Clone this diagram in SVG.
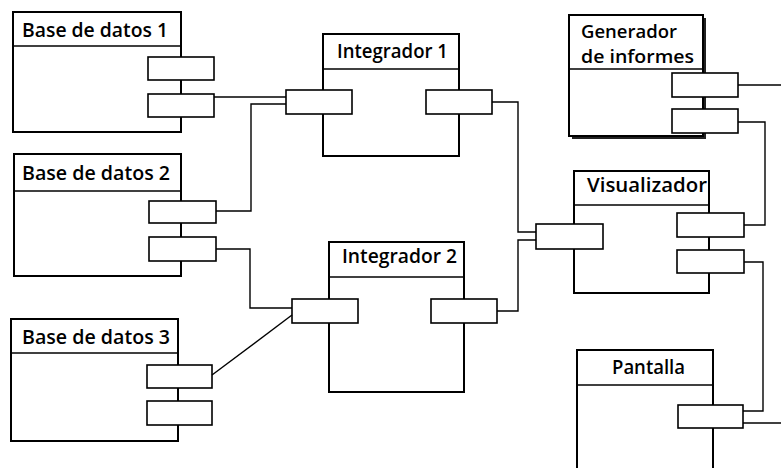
<svg xmlns="http://www.w3.org/2000/svg" width="781" height="468" viewBox="0 0 781 468">
<style>
.box{fill:#fff;stroke:#000;stroke-width:2}
.sep{stroke:#000;stroke-width:1.5}
.port{fill:#fff;stroke:#000;stroke-width:1.6}
.lbl{font-family:"Open Sans","Liberation Sans",sans-serif;font-weight:600;font-size:20px;fill:#000}
.lbl2{font-size:18px}
.con{fill:none;stroke:#000;stroke-width:1.4}
</style>
<rect width="781" height="468" fill="#fff"/>
<g id="bd1">
<rect class="box" x="13" y="12" width="168" height="120"/>
<line class="sep" x1="13" y1="46" x2="181" y2="46"/>
<text class="lbl" x="22" y="37" textLength="146" lengthAdjust="spacingAndGlyphs">Base de datos 1</text>
<rect class="port" x="148" y="57" width="66" height="23"/>
<rect class="port" x="148" y="94" width="66" height="23"/>
</g>
<g id="bd2">
<rect class="box" x="14" y="154" width="167" height="122"/>
<line class="sep" x1="14" y1="191" x2="181" y2="191"/>
<text class="lbl" x="22" y="180" textLength="148" lengthAdjust="spacingAndGlyphs">Base de datos 2</text>
<rect class="port" x="149" y="201" width="67" height="22"/>
<rect class="port" x="149" y="237" width="67" height="24"/>
</g>
<g id="bd3">
<rect class="box" x="11" y="319" width="167" height="122"/>
<line class="sep" x1="11" y1="353" x2="178" y2="353"/>
<text class="lbl" x="22" y="344" textLength="148" lengthAdjust="spacingAndGlyphs">Base de datos 3</text>
<rect class="port" x="147" y="365" width="65" height="23"/>
<rect class="port" x="147" y="401" width="65" height="24"/>
</g>
<g id="int1">
<rect class="box" x="323" y="34" width="136" height="122"/>
<line class="sep" x1="323" y1="69" x2="459" y2="69"/>
<text class="lbl" x="337" y="58" textLength="111" lengthAdjust="spacingAndGlyphs">Integrador 1</text>
<rect class="port" x="286" y="90" width="66" height="24"/>
<rect class="port" x="426" y="90" width="66" height="24"/>
</g>
<g id="int2">
<rect class="box" x="329" y="242" width="135" height="150"/>
<line class="sep" x1="329" y1="277" x2="464" y2="277"/>
<text class="lbl" x="342" y="263" textLength="115" lengthAdjust="spacingAndGlyphs">Integrador 2</text>
<rect class="port" x="292" y="299" width="66" height="24"/>
<rect class="port" x="431" y="299" width="66" height="24"/>
</g>
<g id="gen">
<rect x="572" y="18" width="134" height="121" fill="#222"/>
<rect class="box" x="569" y="15" width="134" height="121"/>
<line class="sep" x1="569" y1="69" x2="703" y2="69"/>
<text class="lbl lbl2" x="581" y="38" textLength="96" lengthAdjust="spacingAndGlyphs">Generador</text>
<text class="lbl lbl2" x="581" y="63" textLength="113" lengthAdjust="spacingAndGlyphs">de informes</text>
<rect class="port" x="672" y="73" width="66" height="24"/>
<rect class="port" x="672" y="109" width="66" height="24"/>
</g>
<g id="vis">
<rect class="box" x="574" y="171" width="135" height="122"/>
<line class="sep" x1="574" y1="205" x2="709" y2="205"/>
<text class="lbl" x="587" y="192" textLength="120" lengthAdjust="spacingAndGlyphs">Visualizador</text>
<rect class="port" x="536" y="224" width="67" height="25"/>
<rect class="port" x="677" y="213" width="67" height="24"/>
<rect class="port" x="677" y="250" width="67" height="23"/>
</g>
<g id="pantalla">
<rect class="box" x="577" y="350" width="136" height="130"/>
<line class="sep" x1="577" y1="385" x2="713" y2="385"/>
<text class="lbl" x="612" y="374" textLength="73" lengthAdjust="spacingAndGlyphs">Pantalla</text>
<rect class="port" x="678" y="405" width="65" height="23"/>
</g>
<g id="connectors">
<polyline class="con" points="214,97 286,97"/>
<polyline class="con" points="216,211 251,211 251,104 286,104"/>
<polyline class="con" points="216,249 250,249 250,308 292,308"/>
<polyline class="con" points="212,375 292,315"/>
<polyline class="con" points="492,102 518,102 518,232 536,232"/>
<polyline class="con" points="497,311 518,311 518,240 536,240"/>
<polyline class="con" points="738,85 781,85"/>
<polyline class="con" points="738,122 765,122 765,225 744,225"/>
<polyline class="con" points="744,262 763,262 763,411 743,411"/>
<polyline class="con" points="743,423 781,423"/>
</g>
</svg>
